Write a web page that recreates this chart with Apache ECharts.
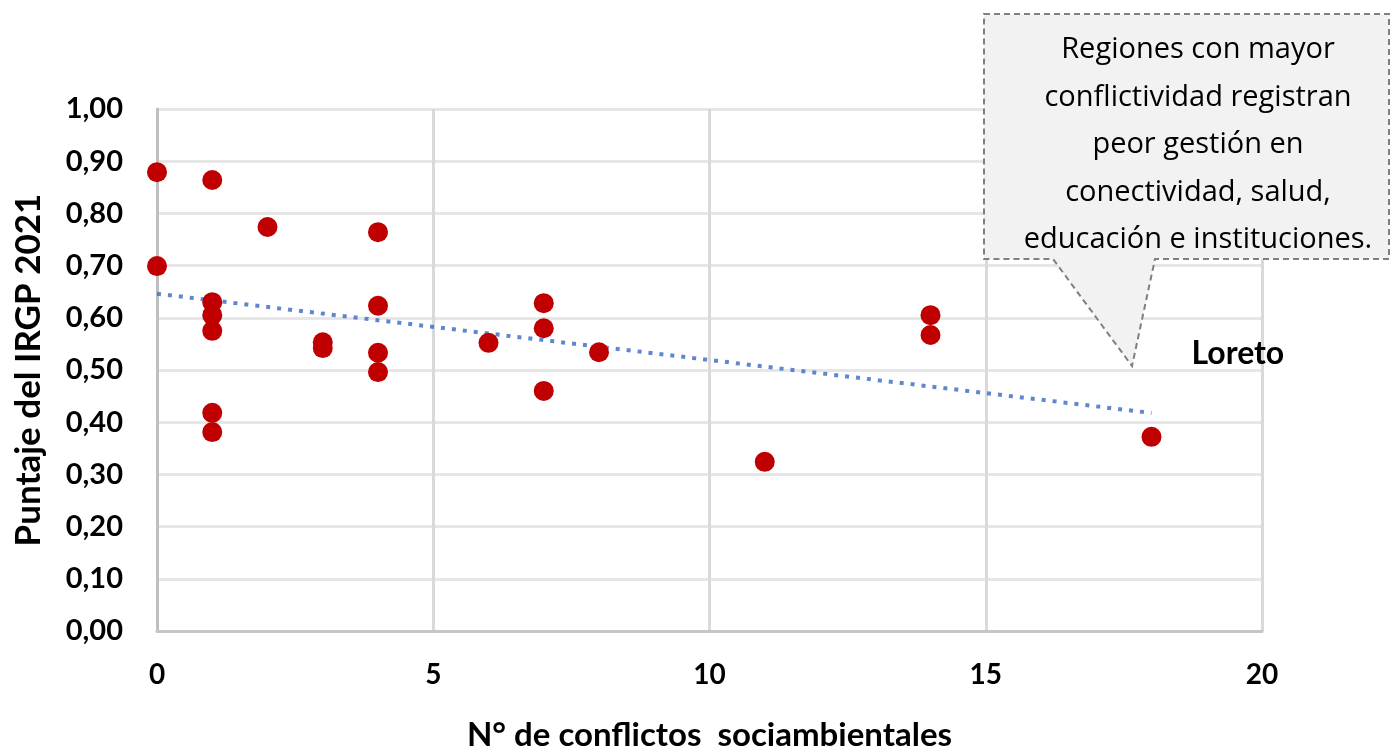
<!DOCTYPE html>
<html>
<head>
<meta charset="utf-8">
<script src="https://cdn.jsdelivr.net/npm/echarts@6/dist/echarts.min.js"></script>
<style>
  html, body { margin: 0; padding: 0; background: #fff; }
  #main { width: 1390px; height: 748px; }
</style>
</head>
<body>
<div id="main"></div>
<script>
// N° de conflictos sociambientales por región
const conflicts = [0, 0, 1, 1, 1, 1, 1, 1, 2, 3, 3, 4, 4, 4, 4, 6, 7, 7, 7, 8, 11, 14, 14, 18];
// Puntaje del IRGP 2021
const scores = [0.879, 0.699, 0.864, 0.630, 0.605, 0.575, 0.418, 0.381, 0.774, 0.553, 0.542,
  0.764, 0.623, 0.533, 0.496, 0.552, 0.628, 0.580, 0.460, 0.534, 0.324, 0.605, 0.567, 0.372];
const xTicks = [0, 5, 10, 15, 20];
const yTicks = [0, 0.1, 0.2, 0.3, 0.4, 0.5, 0.6, 0.7, 0.8, 0.9, 1.0];
const highlightIndex = 23;
const highlightName = 'Loreto';
const calloutText = 'Regiones con mayor\nconflictividad registran\npeor gestión en\nconectividad, salud,\neducación e instituciones.';

// linear trend (least squares)
const n = conflicts.length;
const mx = conflicts.reduce((a, b) => a + b, 0) / n;
const my = scores.reduce((a, b) => a + b, 0) / n;
let sxy = 0, sxx = 0;
for (let i = 0; i < n; i++) {
  sxy += (conflicts[i] - mx) * (scores[i] - my);
  sxx += (conflicts[i] - mx) * (conflicts[i] - mx);
}
const slope = sxy / sxx;
const intercept = my - slope * mx;
const xMin = Math.min(...conflicts), xMax = Math.max(...conflicts);
const trend = [[xMin, intercept + slope * xMin], [xMax, intercept + slope * xMax]];

const points = conflicts.map(function (x, i) {
  const item = { value: [x, scores[i]] };
  if (i === highlightIndex) {
    item.label = {
      show: true,
      formatter: highlightName,
      position: 'right',
      offset: [25, -83],
      color: '#000',
      fontFamily: 'Lato',
      fontWeight: 'bold',
      fontSize: 32
    };
  }
  return item;
});

const chart = echarts.init(document.getElementById('main'));
const option = {
  animation: false,
  grid: { left: 157, right: 128, top: 109, bottom: 117, outerBoundsMode: 'none', containLabel: false },
  xAxis: {
    type: 'value',
    min: xTicks[0],
    max: xTicks[xTicks.length - 1],
    interval: 5,
    name: 'N° de conflictos  sociambientales',
    nameLocation: 'middle',
    nameGap: 88,
    nameTextStyle: { color: '#000', fontFamily: 'Lato', fontSize: 33, fontWeight: 'bold' },
    axisLine: { show: true, lineStyle: { color: '#c6c6c6', width: 3 } },
    axisTick: { show: false },
    axisLabel: { color: '#000', fontFamily: 'Lato', fontSize: 28, fontWeight: 'bold', margin: 30 },
    splitLine: { show: true, lineStyle: { color: '#d9d9d9', width: 3 } }
  },
  yAxis: {
    type: 'value',
    min: yTicks[0],
    max: yTicks[yTicks.length - 1],
    interval: 0.1,
    name: 'Puntaje del IRGP 2021',
    nameLocation: 'middle',
    nameGap: 111,
    nameTextStyle: { color: '#000', fontFamily: 'Lato', fontSize: 35, fontWeight: 'bold' },
    axisLine: { show: true, lineStyle: { color: '#bfbfbf', width: 3 } },
    axisTick: { show: false },
    axisLabel: {
      color: '#000', fontFamily: 'Lato', fontSize: 29, fontWeight: 'bold', margin: 34,
      formatter: function (v) { return v.toFixed(2).replace('.', ','); }
    },
    splitLine: { show: true, lineStyle: { color: '#e6e6e6', width: 3 } }
  },
  series: [
    {
      type: 'line',
      data: trend,
      symbol: 'none',
      silent: true,
      z: 3,
      lineStyle: { color: '#4472c4', width: 4, type: [4, 7], opacity: 0.85 }
    },
    {
      type: 'scatter',
      data: points,
      symbol: 'circle',
      symbolSize: 20,
      z: 4,
      itemStyle: { color: '#c00000', opacity: 1 }
    }
  ],
  graphic: [
    {
      type: 'polygon',
      z: 10,
      shape: {
        points: [[984, 14], [1389, 14], [1389, 259], [1155, 259], [1132, 366], [1053, 259], [984, 259]]
      },
      style: { fill: '#f2f2f2', stroke: '#7f7f7f', lineWidth: 2, lineDash: [6, 4] }
    },
    {
      type: 'text',
      z: 11,
      x: 1198,
      y: 145,
      style: {
        text: calloutText,
        fill: '#000',
        fontFamily: 'Open Sans',
        fontSize: 29,
        lineHeight: 47.5,
        align: 'center',
        verticalAlign: 'middle'
      }
    }
  ]
};
chart.setOption(option);
</script>
</body>
</html>
